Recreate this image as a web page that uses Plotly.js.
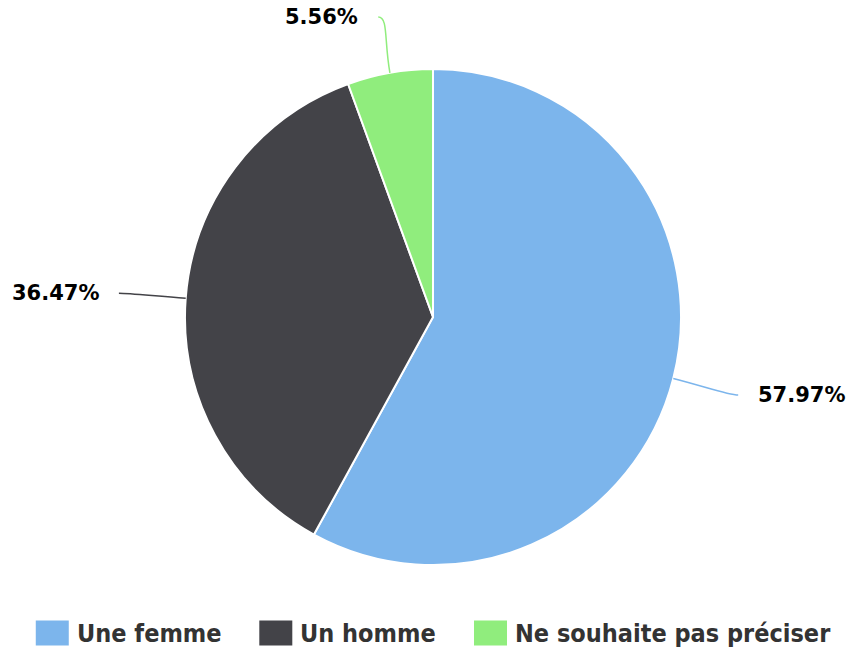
<!DOCTYPE html>
<html><head><meta charset="utf-8">
<script src="https://cdn.plot.ly/plotly-3.0.1.min.js"></script>
<style>html,body{margin:0;padding:0;background:#fff}#chart{width:848px;height:648px}</style>
</head><body><div id="chart"></div>
<script>
// ---- data ----
const categories = ['Une femme', 'Un homme', 'Ne souhaite pas préciser'];
const shares = [57.97, 36.47, 5.56];
const colors = ['#7cb5ec', '#434348', '#90ed7d'];

// ---- layout constants (pixels) ----
const W = 848, H = 648;
const CX = 433, CY = 317, R = 248;
const LABEL_DIST = 67, LABEL_GAP = 18, LABEL_TOP = 17, CURVE = 10;
const labelFont = {family: 'DejaVu Sans', size: 21, color: '#000000', weight: 700};
const legendFontFamily = 'DejaVu Sans Condensed';
const legendFontSize = 25;
const LEG_SQ_W = 33, LEG_SQ_H = 25, LEG_TEXT_OFF = 41, LEG_ITEM_GAP = 38, LEG_Y = 633, LEG_CENTER = 433;

const px = x => x / W;
const py = y => 1 - y / H;

const total = shares.reduce((a, b) => a + b, 0);
const shapes = [];
const annotations = [];

// connectors and labels derived from the slice angles
let cum = 0;
shares.forEach((v, i) => {
  const a = (cum + v / 2) / total * 2 * Math.PI;
  cum += v;
  const sx = Math.sin(a), cy = Math.cos(a);
  const ex = CX + R * sx, ey = CY - R * cy;
  const ax = CX + (R + LABEL_DIST) * sx;
  const ay = Math.max(LABEL_TOP, CY - (R + LABEL_DIST) * cy);
  const right = sx >= 0;
  const c1x = CX + (R + LABEL_DIST * 0.5) * sx, c1y = CY - (R + LABEL_DIST * 0.5) * cy;
  const c2x = right ? ax - CURVE : ax + CURVE, c2y = ay;
  shapes.push({
    type: 'path', xref: 'paper', yref: 'paper',
    path: `M ${px(ex)} ${py(ey)} C ${px(c1x)} ${py(c1y)} ${px(c2x)} ${py(c2y)} ${px(ax)} ${py(ay)}`,
    line: {color: colors[i], width: 1.5}
  });
  annotations.push({
    xref: 'paper', yref: 'paper', showarrow: false,
    x: px(right ? ax + LABEL_GAP : ax - LABEL_GAP), y: py(ay),
    xanchor: right ? 'left' : 'right', yanchor: 'middle',
    text: v.toFixed(2) + '%', font: labelFont
  });
});

// custom legend
const ctx = document.createElement('canvas').getContext('2d');
ctx.font = `bold ${legendFontSize}px "${legendFontFamily}", "DejaVu Sans"`;
const widths = categories.map(c => ctx.measureText(c).width);
const totalW = widths.reduce((s, w) => s + LEG_TEXT_OFF + w, 0) + LEG_ITEM_GAP * (categories.length - 1);
let lx = LEG_CENTER - totalW / 2;
categories.forEach((c, i) => {
  shapes.push({
    type: 'rect', xref: 'paper', yref: 'paper',
    x0: px(lx), x1: px(lx + LEG_SQ_W), y0: py(LEG_Y + LEG_SQ_H / 2), y1: py(LEG_Y - LEG_SQ_H / 2),
    fillcolor: colors[i], line: {width: 0}
  });
  annotations.push({
    xref: 'paper', yref: 'paper', showarrow: false,
    x: px(lx + LEG_TEXT_OFF - 2), y: py(LEG_Y), xanchor: 'left', yanchor: 'middle',
    text: c, font: {family: legendFontFamily + ', DejaVu Sans', size: legendFontSize, color: '#333333', weight: 700}
  });
  lx += LEG_TEXT_OFF + widths[i] + LEG_ITEM_GAP;
});

const trace = {
  type: 'pie', labels: categories, values: shares,
  marker: {colors: colors, line: {color: '#ffffff', width: 2}},
  sort: false, direction: 'clockwise', rotation: 0,
  textinfo: 'none', hoverinfo: 'label+percent',
  domain: {x: [px(CX - R), px(CX + R)], y: [py(CY + R), py(CY - R)]}
};

Plotly.newPlot('chart', [trace], {
  width: W, height: H, margin: {l: 0, r: 0, t: 0, b: 0},
  paper_bgcolor: '#ffffff', showlegend: false,
  shapes: shapes, annotations: annotations
}, {displayModeBar: false, staticPlot: true});
</script></body></html>
